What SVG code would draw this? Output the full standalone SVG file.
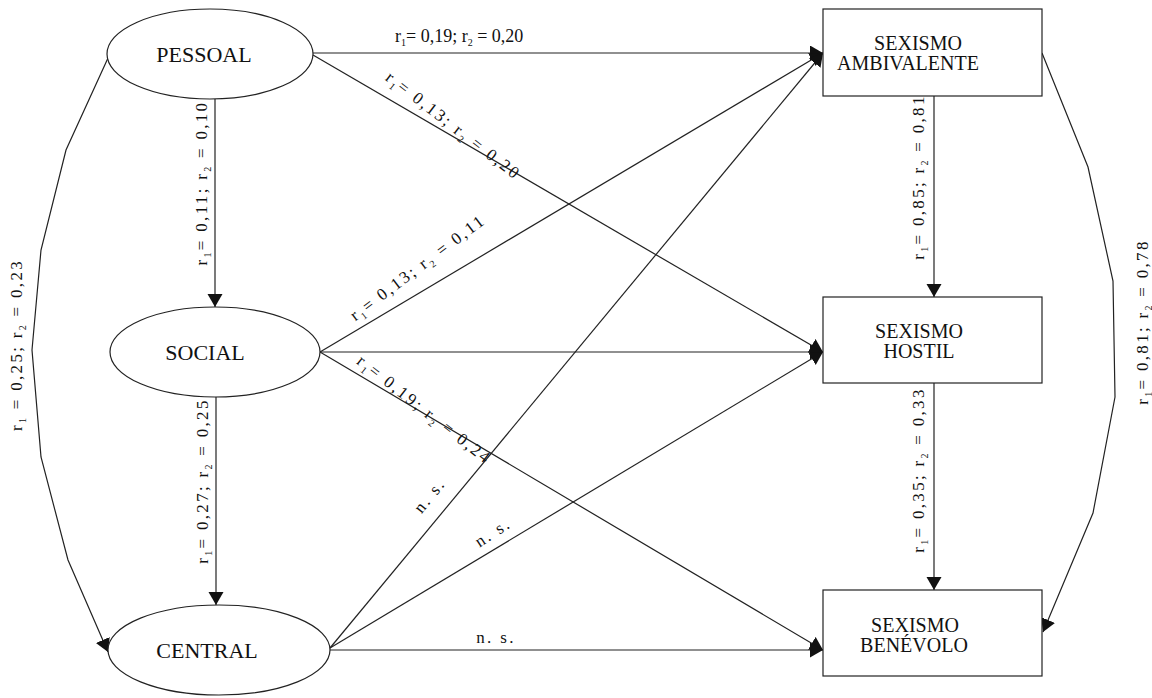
<svg xmlns="http://www.w3.org/2000/svg" width="1152" height="698" viewBox="0 0 1152 698">
<style>
.node{fill:#fff;stroke:#222;stroke-width:1.2}
.nt{font-family:"Liberation Serif","Times New Roman",serif;font-size:22px;fill:#111;text-anchor:middle}
.bt{font-family:"Liberation Serif","Times New Roman",serif;font-size:20px;fill:#111;text-anchor:middle}
.lb{font-family:"Liberation Serif","Times New Roman",serif;font-size:17px;fill:#111;letter-spacing:2.3px}
.top{font-family:"Liberation Serif","Times New Roman",serif;font-size:18px;fill:#111}
.sub{font-size:10px}
.edge{fill:none;stroke:#222;stroke-width:1.2}
</style>
<defs>
<marker id="ah" markerWidth="14" markerHeight="16" refX="13" refY="7.5" orient="auto" markerUnits="userSpaceOnUse"><path d="M0,0 L13,7.5 L0,15 z" fill="#111"/></marker>
</defs>
<g id="connectors">
<line class="edge" x1="313" y1="53" x2="823" y2="53" marker-end="url(#ah)"/>
<line class="edge" x1="313" y1="55" x2="823" y2="352" marker-end="url(#ah)"/>
<line class="edge" x1="215" y1="99" x2="215" y2="307" marker-end="url(#ah)"/>
<line class="edge" x1="320" y1="352" x2="823" y2="53" marker-end="url(#ah)"/>
<line class="edge" x1="320" y1="352" x2="823" y2="352" marker-end="url(#ah)"/>
<line class="edge" x1="320" y1="352" x2="823" y2="650" marker-end="url(#ah)"/>
<line class="edge" x1="216" y1="397" x2="216" y2="605" marker-end="url(#ah)"/>
<line class="edge" x1="330" y1="648" x2="823" y2="53" marker-end="url(#ah)"/>
<line class="edge" x1="330" y1="648" x2="823" y2="352" marker-end="url(#ah)"/>
<line class="edge" x1="330" y1="650" x2="823" y2="650" marker-end="url(#ah)"/>
<line class="edge" x1="934" y1="96" x2="934" y2="297" marker-end="url(#ah)"/>
<line class="edge" x1="934" y1="383" x2="934" y2="590" marker-end="url(#ah)"/>
<polyline class="edge" points="108,58 66,150 41,250 32,350 41,457 68,560 108,652" marker-end="url(#ah)"/>
<polyline class="edge" points="1042,53 1088,167 1113,281 1115,397 1093,513 1043,632" marker-end="url(#ah)"/>
<text class="top" x="395" y="42">r<tspan class="sub" dy="4">1</tspan><tspan dy="-4">= 0,19; r</tspan><tspan class="sub" dy="4">2</tspan><tspan dy="-4"> = 0,20</tspan></text>
<text class="lb" text-anchor="middle" transform="translate(450,130) rotate(37.6)">r<tspan class="sub" dy="4">1</tspan><tspan dy="-4">= 0,13; r</tspan><tspan class="sub" dy="4">2</tspan><tspan dy="-4"> = 0,20</tspan></text>
<text class="lb" text-anchor="middle" transform="translate(421,272) rotate(-37)">r<tspan class="sub" dy="4">1</tspan><tspan dy="-4">= 0,13; r</tspan><tspan class="sub" dy="4">2</tspan><tspan dy="-4"> = 0,11</tspan></text>
<text class="lb" text-anchor="middle" transform="translate(421,414) rotate(38)">r<tspan class="sub" dy="4">1</tspan><tspan dy="-4">= 0,19; r</tspan><tspan class="sub" dy="4">2</tspan><tspan dy="-4"> = 0,24</tspan></text>
<text class="lb" text-anchor="middle" transform="translate(207,183) rotate(-90)">r<tspan class="sub" dy="4">1</tspan><tspan dy="-4">= 0,11; r</tspan><tspan class="sub" dy="4">2</tspan><tspan dy="-4"> = 0,10</tspan></text>
<text class="lb" text-anchor="middle" transform="translate(208,481) rotate(-90)">r<tspan class="sub" dy="4">1</tspan><tspan dy="-4">= 0,27; r</tspan><tspan class="sub" dy="4">2</tspan><tspan dy="-4"> = 0,25</tspan></text>
<text class="lb" text-anchor="middle" transform="translate(22,345) rotate(-90)">r<tspan class="sub" dy="4">1</tspan><tspan dy="-4"> = 0,25; r</tspan><tspan class="sub" dy="4">2</tspan><tspan dy="-4"> = 0,23</tspan></text>
<text class="lb" text-anchor="middle" transform="translate(924,177) rotate(-90)">r<tspan class="sub" dy="4">1</tspan><tspan dy="-4">= 0,85; r</tspan><tspan class="sub" dy="4">2</tspan><tspan dy="-4"> = 0,81</tspan></text>
<text class="lb" text-anchor="middle" transform="translate(924,470) rotate(-90)">r<tspan class="sub" dy="4">1</tspan><tspan dy="-4">= 0,35; r</tspan><tspan class="sub" dy="4">2</tspan><tspan dy="-4"> = 0,33</tspan></text>
<text class="lb" text-anchor="middle" transform="translate(1148,322) rotate(-90)">r<tspan class="sub" dy="4">1</tspan><tspan dy="-4">= 0,81; r</tspan><tspan class="sub" dy="4">2</tspan><tspan dy="-4"> = 0,78</tspan></text>
<text class="lb" text-anchor="middle" transform="translate(434,499) rotate(-50.6)">n. s.</text>
<text class="lb" text-anchor="middle" transform="translate(496,537) rotate(-33)">n. s.</text>
<text class="lb" text-anchor="middle" x="496" y="643">n. s.</text>
</g>
<g id="pessoal"><ellipse class="node" cx="210" cy="54" rx="103" ry="45"/><text class="nt" x="204" y="62">PESSOAL</text></g>
<g id="social"><ellipse class="node" cx="215" cy="352" rx="105" ry="45"/><text class="nt" x="205" y="360">SOCIAL</text></g>
<g id="central"><ellipse class="node" cx="219" cy="650" rx="111" ry="45"/><text class="nt" x="207" y="658">CENTRAL</text></g>
<g id="ambivalente"><rect class="node" x="823" y="9" width="219" height="87"/><text class="bt" x="918" y="50">SEXISMO</text><text class="bt" x="908" y="70">AMBIVALENTE</text></g>
<g id="hostil"><rect class="node" x="823" y="297" width="219" height="86"/><text class="bt" x="919" y="338">SEXISMO</text><text class="bt" x="919" y="358">HOSTIL</text></g>
<g id="benevolo"><rect class="node" x="823" y="590" width="219" height="86"/><text class="bt" x="915" y="632">SEXISMO</text><text class="bt" x="914" y="652">BENÉVOLO</text></g>
</svg>
